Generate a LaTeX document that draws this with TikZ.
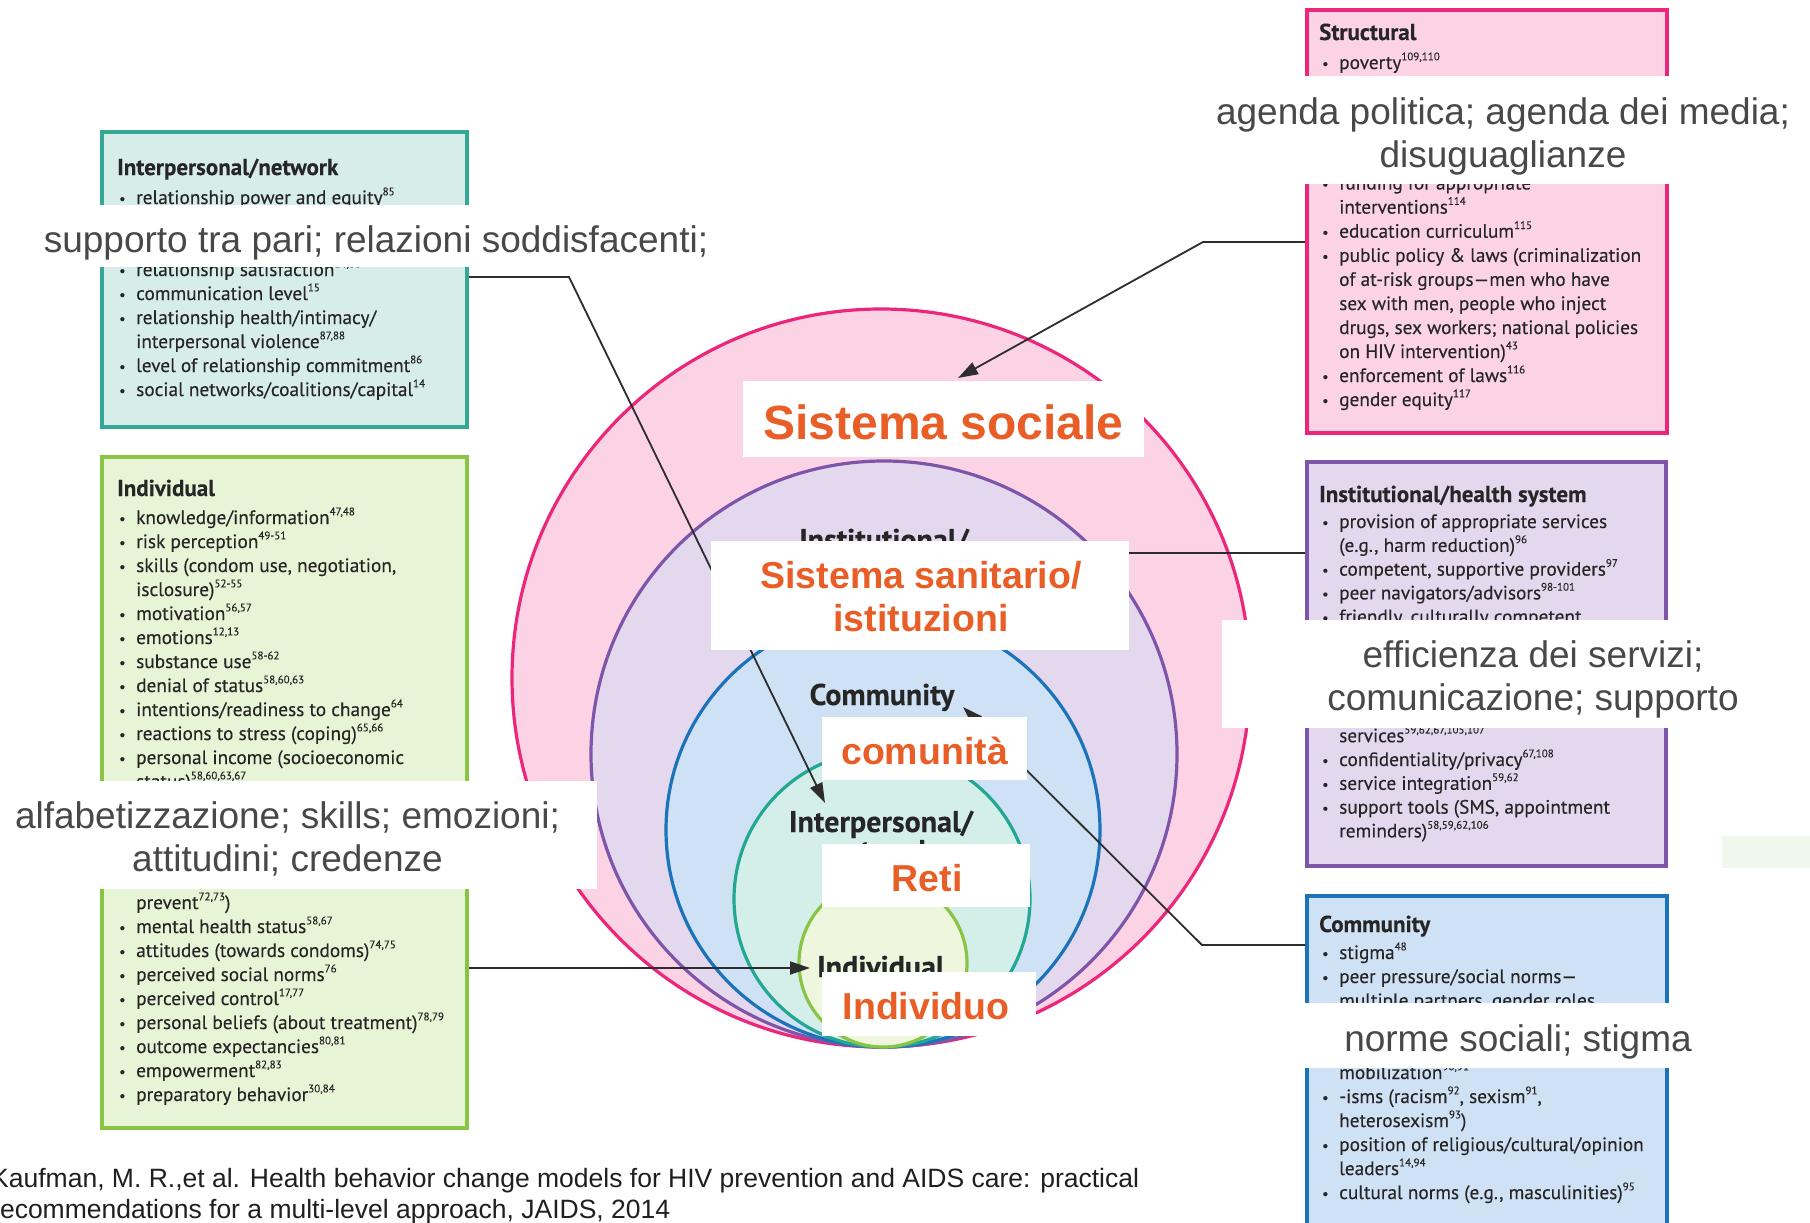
\documentclass[tikz,border=0pt]{standalone}
\usepackage{fontspec}
\setmainfont{Liberation Sans}
\newfontfamily\boxfont[FakeBold=0.25]{PT Sans}
\usetikzlibrary{arrows.meta}
\definecolor{pkB}{RGB}{236,38,122}
\definecolor{pkF}{RGB}{251,211,229}
\definecolor{puB}{RGB}{125,86,170}
\definecolor{puF}{RGB}{228,216,238}
\definecolor{blB}{RGB}{28,115,186}
\definecolor{blF}{RGB}{207,225,244}
\definecolor{tlB}{RGB}{34,168,146}
\definecolor{tlF}{RGB}{212,238,234}
\definecolor{tbB}{RGB}{52,168,150}
\definecolor{tbF}{RGB}{214,237,234}
\definecolor{grB}{RGB}{137,196,68}
\definecolor{grF}{RGB}{232,244,214}
\definecolor{gcF}{RGB}{238,246,222}
\definecolor{orng}{RGB}{232,94,38}
\definecolor{gtx}{RGB}{72,72,72}
\definecolor{dtx}{RGB}{38,38,38}
\definecolor{lnc}{RGB}{45,45,45}
\definecolor{faint}{RGB}{240,248,237}
\newcommand{\refn}[1]{\raisebox{0.45em}{\fontsize{11}{11}\selectfont #1}}
\newcommand{\bul}{\makebox[17pt][l]{\raisebox{0.5pt}{\fontsize{14}{14}\selectfont\textbullet}}}
\newcommand{\lbul}[3]{\node[btx] (#1) at (119,#2) {\bul#3};}
\newcommand{\lcon}[3]{\node[btx] (#1) at (136,#2) {#3};}
\newcommand{\rbul}[3]{\node[btx] (#1) at (1322,#2) {\bul#3};}
\newcommand{\rcon}[3]{\node[btx] (#1) at (1339,#2) {#3};}
\tikzset{
  bx/.style={line width=4pt, inner sep=0pt, anchor=north west},
  btx/.style={anchor=base west, inner sep=0pt, font=\boxfont\fontsize{19.3}{22}\selectfont, text=dtx},
  ttl/.style={anchor=base west, inner sep=0pt, font=\boxfont\bfseries\fontsize{23}{26}\selectfont, text=dtx},
  clab/.style={anchor=base, inner sep=0pt, font=\boxfont\bfseries\fontsize{30}{32}\selectfont, text=dtx},
  ring/.style={line width=3.2pt},
  conn/.style={draw=lnc, line width=1.8pt},
  arr/.style={-{Triangle[length=20pt,width=13pt]}},
  wbg/.style={fill=white, inner sep=0pt},
  ovt/.style={inner sep=0pt, text=gtx, font=\fontsize{37}{43}\selectfont, align=center},
  lbt/.style={inner sep=0pt, text=orng, font=\bfseries\fontsize{37.5}{43}\selectfont, align=center},
  cite/.style={anchor=base west, inner sep=0pt, font=\fontsize{26.5}{31}\selectfont, text=black!88}
}
\begin{document}
\begin{tikzpicture}[x=1pt,y=-1pt]
\useasboundingbox (0,0) rectangle (1810,1223);
\clip (0,0) rectangle (1810,1223);
\fill[white] (0,0) rectangle (1810,1223);
% faint patch
\fill[faint] (1722,836) rectangle (1810,868);

% ---------- boxes ----------
\node[bx, draw=tbB, fill=tbF, minimum width=365, minimum height=295] (ipbox) at (100,130) {};
\node[bx, draw=grB, fill=grF, minimum width=365, minimum height=671] (indbox) at (100,455) {};
\node[bx, draw=pkB, fill=pkF, minimum width=360, minimum height=423] (stbox) at (1305,8) {};
\node[bx, draw=puB, fill=puF, minimum width=359, minimum height=404] (hsbox) at (1305,460) {};
\node[bx, draw=blB, fill=blF, minimum width=360, minimum height=350] (cmbox) at (1305,894) {};

% ---------- Interpersonal/network ----------
\node[ttl] (iptitle) at (117,175) {Interpersonal/network};
\lbul{ip1}{204}{relationship power and equity\refn{85}}
\lbul{ip2}{276}{relationship satisfaction\refn{14,86}}
\lbul{ip3}{300}{communication level\refn{15}}
\lbul{ip4}{324}{relationship health/intimacy/}
\lcon{ip5}{348}{interpersonal violence\refn{87,88}}
\lbul{ip6}{372}{level of relationship commitment\refn{86}}
\lbul{ip7}{396}{social networks/coalitions/capital\refn{14}}

% ---------- Individual ----------
\node[ttl] (intitle) at (117,496) {Individual};
\lbul{in1}{524}{knowledge/information\refn{47,48}}
\lbul{in2}{548}{risk perception\refn{49-51}}
\lbul{in3}{572}{skills (condom use, negotiation,}
\lcon{in4}{596}{isclosure)\refn{52-55}}
\lbul{in5}{620}{motivation\refn{56,57}}
\lbul{in6}{644}{emotions\refn{12,13}}
\lbul{in7}{668}{substance use\refn{58-62}}
\lbul{in8}{692}{denial of status\refn{58,60,63}}
\lbul{in9}{716}{intentions/readiness to change\refn{64}}
\lbul{in10}{740}{reactions to stress (coping)\refn{65,66}}
\lbul{in11}{764}{personal income (socioeconomic}
\lcon{in12}{788}{status)\refn{58,60,63,67}}
\lcon{in13}{909}{prevent\refn{72,73})}
\lbul{in14}{933}{mental health status\refn{58,67}}
\lbul{in15}{957}{attitudes (towards condoms)\refn{74,75}}
\lbul{in16}{981}{perceived social norms\refn{76}}
\lbul{in17}{1005}{perceived control\refn{17,77}}
\lbul{in18}{1029}{personal beliefs (about treatment)\refn{78,79}}
\lbul{in19}{1053}{outcome expectancies\refn{80,81}}
\lbul{in20}{1077}{empowerment\refn{82,83}}
\lbul{in21}{1101}{preparatory behavior\refn{30,84}}

% ---------- Structural ----------
\node[ttl] (sttitle) at (1319,40) {Structural};
\rbul{st1}{69}{poverty\refn{109,110}}
\rbul{st2}{189.5}{funding for appropriate}
\rcon{st3}{213.6}{interventions\refn{114}}
\rbul{st4}{237.7}{education curriculum\refn{115}}
\rbul{st5}{261.8}{public policy \& laws (criminalization}
\rcon{st6}{285.9}{of at-risk groups—men who have}
\rcon{st7}{310}{sex with men, people who inject}
\rcon{st8}{334}{drugs, sex workers; national policies}
\rcon{st9}{358}{on HIV intervention)\refn{43}}
\rbul{st10}{382}{enforcement of laws\refn{116}}
\rbul{st11}{406}{gender equity\refn{117}}

% ---------- Institutional/health system ----------
\node[ttl] (hstitle) at (1319,502) {Institutional/health system};
\rbul{hs1}{528}{provision of appropriate services}
\rcon{hs2}{551.8}{(e.g., harm reduction)\refn{96}}
\rbul{hs3}{575.6}{competent, supportive providers\refn{97}}
\rbul{hs4}{599.4}{peer navigators/advisors\refn{98-101}}
\rbul{hs5}{623.2}{friendly, culturally competent}
\rcon{hs6}{742.2}{services\refn{59,62,67,105,107}}
\rbul{hs7}{766}{confidentiality/privacy\refn{67,108}}
\rbul{hs8}{789.8}{service integration\refn{59,62}}
\rbul{hs9}{813.6}{support tools (SMS, appointment}
\rcon{hs10}{837.4}{reminders)\refn{58,59,62,106}}

% ---------- Community ----------
\node[ttl] (cmtitle) at (1319,932) {Community};
\rbul{cm1}{959}{stigma\refn{48}}
\rbul{cm2}{983}{peer pressure/social norms—}
\rcon{cm3}{1007}{multiple partners, gender roles}
\rcon{cm4}{1079}{mobilization\refn{90,91}}
\rbul{cm5}{1103}{-isms (racism\refn{92}, sexism\refn{91},}
\rcon{cm6}{1127}{heterosexism\refn{93})}
\rbul{cm7}{1151}{position of religious/cultural/opinion}
\rcon{cm8}{1175}{leaders\refn{14,94}}
\rbul{cm9}{1199}{cultural norms (e.g., masculinities)\refn{95}}

% ---------- circles ----------
\draw[ring, draw=pkB, fill=pkF] (881,678) circle[radius=369pt];
\draw[ring, draw=puB, fill=puF] (884,754) circle[radius=293pt];
\draw[ring, draw=blB, fill=blF] (883,830) circle[radius=217pt];
\draw[ring, draw=tlB, fill=tlF] (882,899) circle[radius=148pt];
\draw[ring, draw=grB, fill=gcF] (883,963) circle[radius=84pt];

\node[clab] (lInst) at (884,550) {Institutional/};
\node[clab] (lComm) at (882,705) {Community};
\node[clab] (lInter) at (881,832) {Interpersonal/};
\node[clab] (lNet) at (881,861) {network};
\node[clab] (lIndiv) at (881,977) {Individual};

% ---------- connectors ----------
\coordinate (k1) at (569,277);
\coordinate (t1) at (825,803);
\draw[conn, arr] (ipbox.east |- k1) -- (k1) -- (t1);
\coordinate (k2) at (1203,242);
\coordinate (t2) at (958,378);
\draw[conn, arr] (stbox.west |- k2) -- (k2) -- (t2);
\coordinate (k3) at (1115,553);
\draw[conn] (hsbox.west |- k3) -- (k3);
\coordinate (k4) at (1202,945);
\coordinate (t4) at (963,707);
\draw[conn, arr] (cmbox.west |- k4) -- (k4) -- (t4);
\coordinate (t5) at (810,968);
\draw[conn, arr] (indbox.east |- t5) -- (t5);

% ---------- grey overlays ----------
\node[wbg, minimum width=686, minimum height=62] (o1) at (375,236) {};
\node[ovt] (o1t) at (376,243) {supporto tra pari; relazioni soddisfacenti;};
\node[wbg, minimum width=610, minimum height=108] (o2) at (1505,130) {};
\node[ovt] (o2t) at (1503,136) {agenda politica; agenda dei media;\\disuguaglianze};
\node[wbg, minimum width=619, minimum height=108] (o3) at (287.5,835) {};
\node[ovt] (o3t) at (287.5,839) {alfabetizzazione; skills; emozioni;\\attitudini; credenze};
\node[wbg, minimum width=622, minimum height=108] (o4) at (1533,674) {};
\node[ovt] (o4t) at (1533,679) {efficienza dei servizi;\\comunicazione; supporto};
\node[wbg, minimum width=584, minimum height=65] (o5) at (1518,1035.5) {};
\node[ovt] (o5t) at (1518,1042) {norme sociali; stigma};

% ---------- orange labels ----------
\node[wbg, minimum width=401, minimum height=76] (lA) at (943.5,419) {};
\node[lbt, font=\bfseries\fontsize{48}{52}\selectfont] (lAt) at (943.5,422) {Sistema sociale};
\node[wbg, minimum width=418, minimum height=109] (lB) at (920,595.5) {};
\node[lbt] (lBt) at (921,597) {Sistema sanitario/\\istituzioni};
\node[wbg, minimum width=205, minimum height=63] (lC) at (924.5,748.5) {};
\node[lbt] (lCt) at (924.5,751) {comunità};
\node[wbg, minimum width=208, minimum height=63] (lD) at (926,875.5) {};
\node[lbt] (lDt) at (927,878) {Reti};
\node[wbg, minimum width=214, minimum height=64] (lE) at (929,1004) {};
\node[lbt] (lEt) at (926,1006.5) {Individuo};

% ---------- citation ----------
\node[cite] (c1) at (-9,1187) {Kaufman, M. R.,et al. Health behavior change models for HIV prevention and AIDS care: practical};
\node[cite] (c2) at (-9,1218) {recommendations for a multi-level approach, JAIDS, 2014};
\end{tikzpicture}
\end{document}
